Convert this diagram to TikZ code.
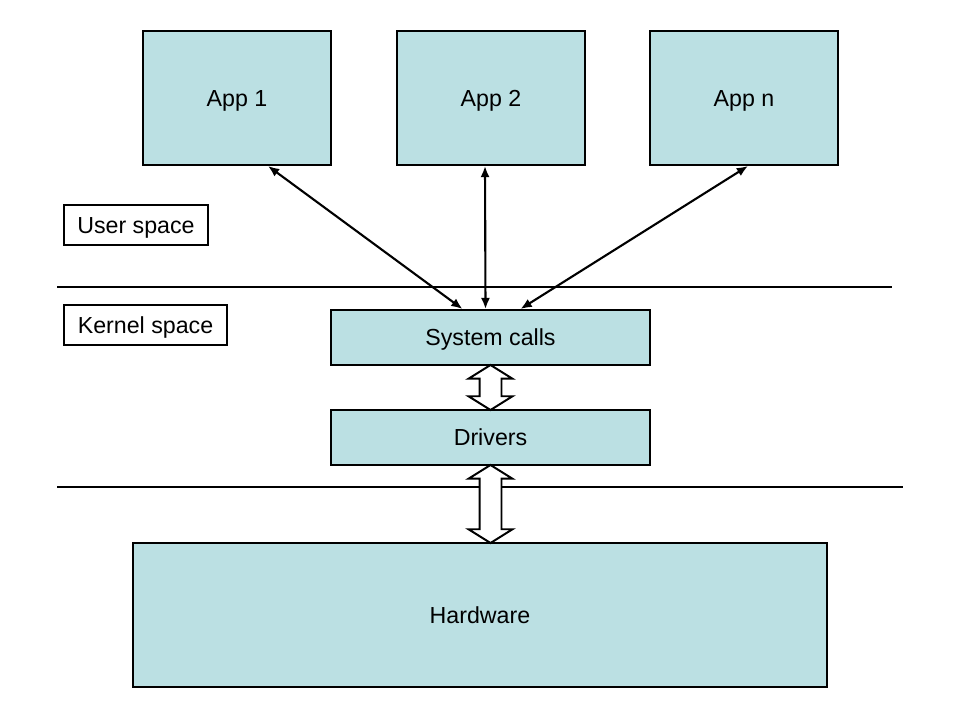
\documentclass[tikz,border=0pt]{standalone}
\usepackage{fontspec}
\setmainfont{Liberation Sans}
\usepackage{xcolor}
\usetikzlibrary{arrows.meta,positioning,shapes.arrows,calc}
\definecolor{boxfill}{RGB}{187,224,227}
\tikzset{
  box/.style={draw, rectangle, fill=boxfill, line width=1.4pt, align=center, font=\fontsize{16.5}{20}\selectfont, inner sep=0pt, text height=11.8pt, text depth=0pt},
  tag/.style={draw, rectangle, fill=white, line width=1.4pt, align=center, font=\fontsize{16.5}{20}\selectfont, inner sep=0pt, text height=11.8pt, text depth=0pt, minimum height=1cm},
  arr/.style={{Latex[length=2.8mm,width=2.3mm]}-{Latex[length=2.8mm,width=2.3mm]}, line width=1.5pt},
  dblarr/.style={draw, double arrow, fill=white, line width=1.4pt, rotate=90, inner xsep=0pt, inner ysep=0.25cm, minimum width=1.05cm, double arrow head extend=0.275cm, double arrow tip angle=116},
  sepline/.style={line width=1.4pt}
}
\begin{document}
\begin{tikzpicture}[x=0.025cm,y=-0.025cm]
\useasboundingbox (0,0) rectangle (960,720);
% applications
\node[box,minimum width=4.7cm,minimum height=3.35cm] (appone) at (237,98) {App 1};
\node[box,minimum width=4.7cm,minimum height=3.35cm] (apptwo) at (491,98) {App 2};
\node[box,minimum width=4.7cm,minimum height=3.35cm] (appn) at (744,98) {App n};
% space labels
\node[tag,minimum width=3.6cm] (usersp) at (136,225) {User space};
\node[tag,minimum width=4.075cm] (kernelsp) at (145.5,325) {Kernel space};
\draw[sepline] (57,287) -- (892,287);
\draw[sepline] (57,487) -- (903,487);
% kernel
\node[box,minimum width=7.975cm,minimum height=1.375cm] (syscalls) at (490.5,337.5) {System calls};
\node[box,minimum width=7.975cm,minimum height=1.375cm] (drivers) at (490.5,437.5) {Drivers};
\node[box,minimum width=17.35cm,minimum height=3.6cm] (hw) at (480,615) {Hardware};
% calls
\draw[arr] ($(appone.south)+(31,0)$) -- ($(syscalls.north)+(-28,0)$);
\draw[arr] ($(apptwo.south)+(-6,0)$) -- ($(syscalls.north)+(-5,0)$);
\draw[arr] ($(appn.south)+(4,0)$) -- ($(syscalls.north)+(30,0)$);
% hollow arrows
\node[dblarr,minimum height=1.125cm] (scdrv) at ($(syscalls.south)!0.5!(drivers.north)$) {};
\node[dblarr,minimum height=1.95cm] (drvhw) at ($(drivers.south)!0.5!(drivers.south |- hw.north)$) {};
\end{tikzpicture}
\end{document}
